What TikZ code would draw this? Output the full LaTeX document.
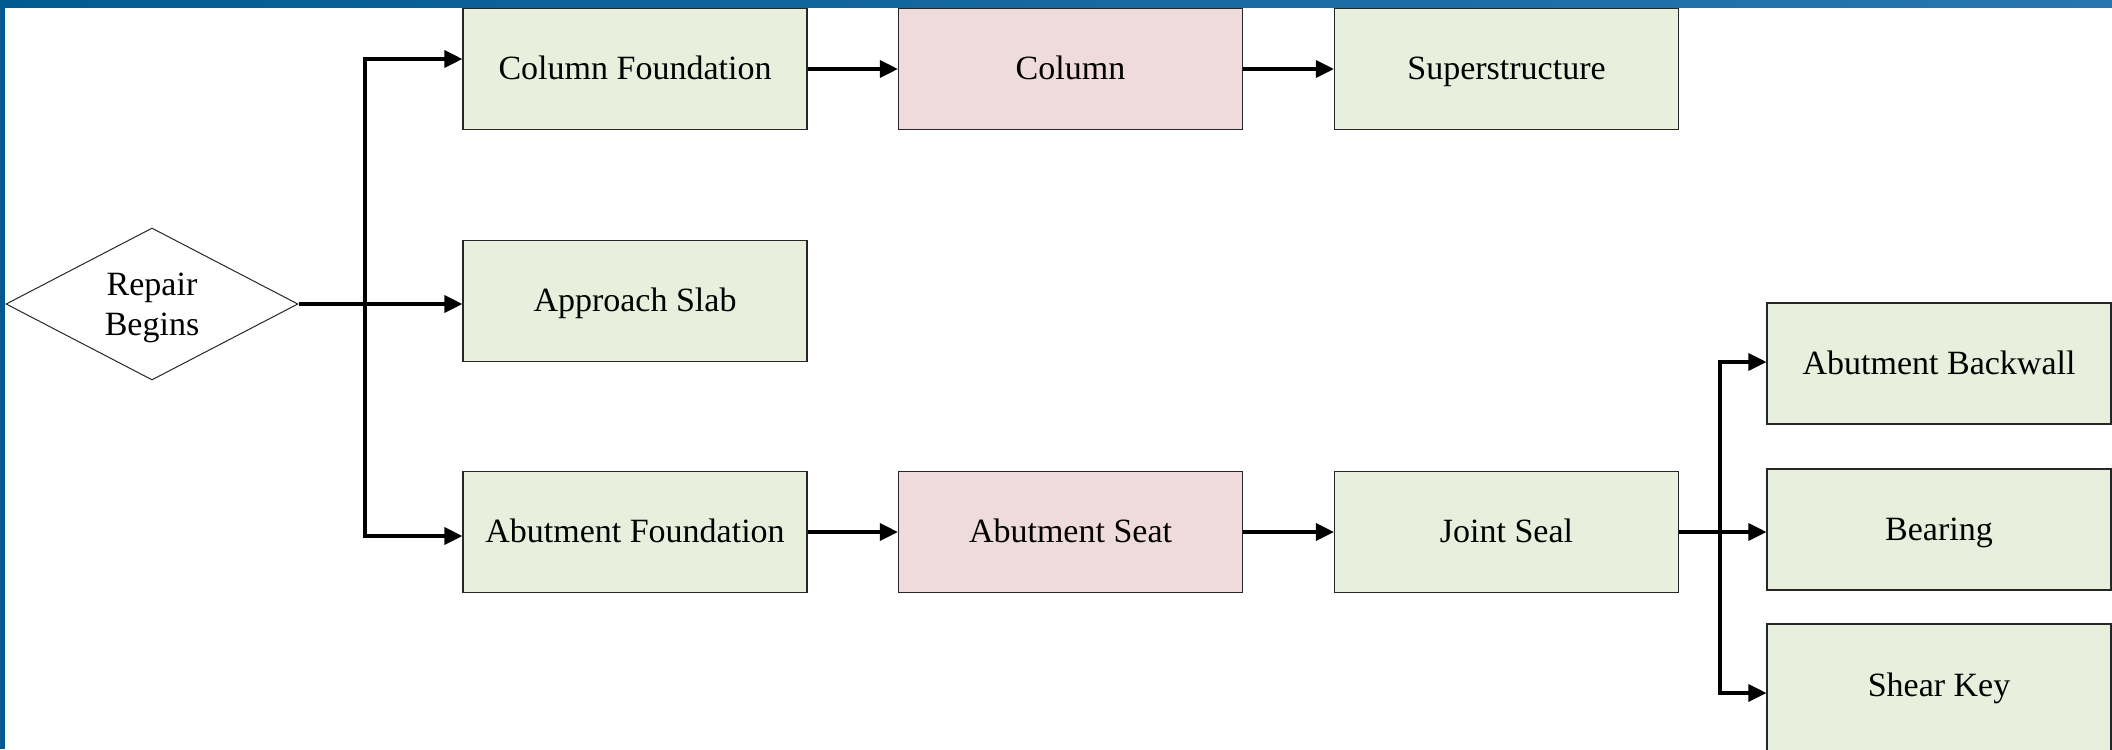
\documentclass[tikz,border=0pt]{standalone}
\usepackage[rgb]{xcolor}
\usepackage{fontspec}
\setmainfont{Liberation Serif}
\usepackage{tikz}
\usetikzlibrary{shapes.geometric,arrows.meta}

\definecolor{groen}{HTML}{E8EFDC}
\definecolor{roze}{HTML}{F0DBDC}
\definecolor{randl}{HTML}{035A92}
\definecolor{randr}{HTML}{2776B0}

\begin{document}
\begin{tikzpicture}[x=0.5pt, y=-0.5pt,
    blok/.style={draw=black!85, line width=0.6pt, fill=groen, minimum width=172pt,
        minimum height=60.5pt, inner sep=0, text height=14.5pt, text depth=4pt,
        font=\fontsize{17}{20}\selectfont},
    rood/.style={blok, fill=roze},
    keuze/.style={draw=black!85, line width=0.5pt, diamond, aspect=2, inner sep=0,
        minimum width=146pt, minimum height=76pt, align=center,
        font=\fontsize{17}{20}\selectfont},
    lijn/.style={line width=1.6pt, line join=miter},
    pijl/.style={lijn, -{Triangle[length=9pt, width=8.5pt]}}]
    \useasboundingbox (0,0) rectangle (2112,749);
    % rand
    \shade[left color=randl, right color=randr] (0,0) rectangle (2112,8);
    \fill[randl] (0,0) rectangle (5,749);
    % coordinaten
    \coordinate (jt) at (365,59);
    \coordinate (jb) at (365,536);
    \coordinate (kt) at (1720,362);
    \coordinate (kb) at (1720,693);
    % blokken
    \node[keuze] (start) at (152,304) {\rule{0pt}{15pt}Repair\\Begins};
    \node[blok] (cf) at (635,69) {Column Foundation};
    \node[rood] (col) at (1070.5,69) {Column};
    \node[blok] (sup) at (1506.5,69) {Superstructure};
    \node[blok] (slab) at (635,301) {Approach Slab};
    \node[blok] (af) at (635,532) {Abutment Foundation};
    \node[rood] (seat) at (1070.5,532) {Abutment Seat};
    \node[blok] (seal) at (1506.5,532) {Joint Seal};
    \node[blok] (wall) at (1939,363.5) {Abutment Backwall};
    \node[blok] (bear) at (1939,529.5) {Bearing};
    \node[blok, minimum height=73pt, text depth=15pt] (key) at (1939,697) {Shear Key};
    % pijlen
    \draw[pijl] (start.east) -- (start.east -| slab.west);
    \draw[pijl] (jb) -- (jt) -- (jt -| cf.west);
    \draw[pijl] (jt) -- (jb) -- (jb -| af.west);
    \draw[pijl] (cf) -- (col);
    \draw[pijl] (col) -- (sup);
    \draw[pijl] (af) -- (seat);
    \draw[pijl] (seat) -- (seal);
    \draw[pijl] (seal.east) -- (seal.east -| bear.west);
    \draw[pijl] (kb) -- (kt) -- (kt -| wall.west);
    \draw[pijl] (kt) -- (kb) -- (kb -| key.west);
\end{tikzpicture}
\end{document}
